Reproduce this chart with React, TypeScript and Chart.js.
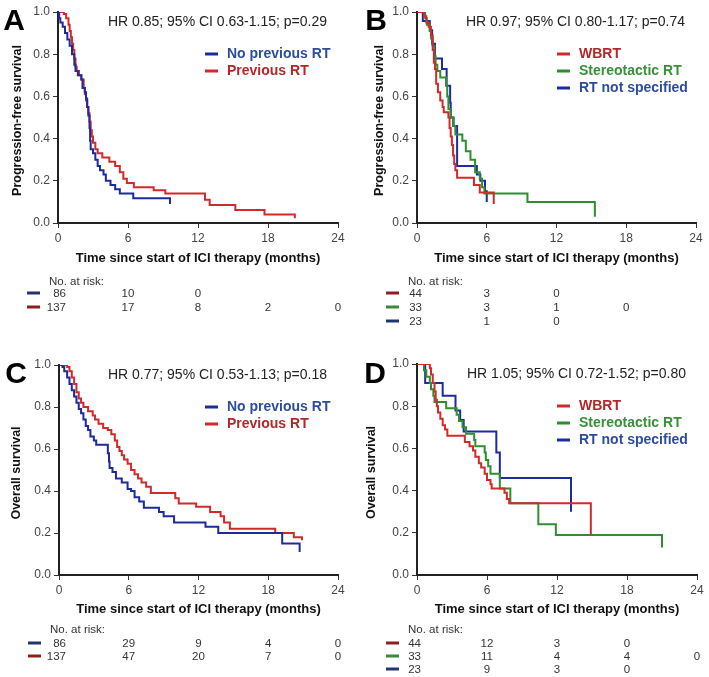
import React, { useEffect, useRef } from 'react';
import { Chart, registerables } from 'chart.js';

Chart.register(...registerables);

const FONT = '"Liberation Sans", Arial, Helvetica, sans-serif';

// ---------- Data ----------
const riskTimes = [0, 6, 12, 18, 24];
const xTitle = 'Time since start of ICI therapy (months)';

// Panel A: PFS by previous RT
const pfsNoRtTime = [0, 0.1, 0.2, 0.4, 0.6, 0.8, 1.0, 1.2, 1.4, 1.5, 1.7, 2.0, 2.1, 2.3, 2.4, 2.5, 2.6, 2.7, 2.75, 2.8, 3.0, 3.2, 3.4, 3.6, 3.9, 4.1, 4.5, 4.9, 5.3, 6.45, 9.6];
const pfsNoRtSurv = [1.0, 0.97, 0.95, 0.93, 0.9, 0.87, 0.84, 0.8, 0.75, 0.72, 0.7, 0.68, 0.64, 0.62, 0.59, 0.55, 0.51, 0.45, 0.39, 0.35, 0.33, 0.3, 0.27, 0.25, 0.23, 0.2, 0.18, 0.16, 0.14, 0.117, 0.09];
const pfsRtTime = [0, 0.5, 0.7, 0.9, 1.0, 1.1, 1.2, 1.3, 1.4, 1.5, 1.6, 1.8, 2.0, 2.2, 2.3, 2.4, 2.5, 2.6, 2.7, 2.8, 2.9, 3.0, 3.2, 3.4, 3.8, 4.4, 4.9, 5.3, 5.6, 5.9, 6.5, 8.2, 9.2, 12.6, 13.0, 15.2, 17.7, 20.3];
const pfsRtSurv = [1.0, 0.99, 0.97, 0.94, 0.91, 0.88, 0.85, 0.82, 0.78, 0.74, 0.72, 0.7, 0.68, 0.64, 0.61, 0.58, 0.55, 0.52, 0.48, 0.44, 0.41, 0.38, 0.35, 0.33, 0.31, 0.29, 0.27, 0.24, 0.21, 0.19, 0.17, 0.155, 0.14, 0.11, 0.085, 0.062, 0.04, 0.022];
const riskPfsNoRt = ['86', '10', '0'];
const riskPfsRt = ['137', '17', '8', '2', '0'];

// Panel B: PFS by RT type
const pfsWbrtTime = [0, 0.6, 0.8, 1.0, 1.2, 1.35, 1.45, 1.55, 1.65, 1.8, 2.0, 2.2, 2.3, 2.7, 2.8, 2.9, 3.0, 3.1, 3.2, 3.3, 3.45, 4.9, 5.4, 6.6];
const pfsWbrtSurv = [1.0, 0.98, 0.95, 0.93, 0.89, 0.82, 0.76, 0.73, 0.66, 0.62, 0.58, 0.55, 0.525, 0.5, 0.45, 0.41, 0.37, 0.32, 0.28, 0.25, 0.215, 0.18, 0.145, 0.09];
const pfsSrtTime = [0, 0.7, 0.85, 1.1, 1.2, 1.35, 1.5, 1.6, 1.75, 2.0, 2.5, 2.6, 2.7, 2.9, 3.1, 3.3, 3.9, 4.2, 4.6, 5.0, 5.4, 5.6, 5.8, 9.5, 15.3];
const pfsSrtSurv = [1.0, 0.97, 0.94, 0.91, 0.875, 0.84, 0.79, 0.75, 0.72, 0.69, 0.65, 0.6, 0.54, 0.5, 0.46, 0.42, 0.39, 0.34, 0.3, 0.24, 0.21, 0.17, 0.14, 0.1, 0.03];
const pfsNsTime = [0, 0.5, 1.1, 1.3, 1.55, 2.15, 2.55, 2.85, 2.9, 3.15, 3.45, 5.15, 5.45, 5.85, 6.0];
const pfsNsSurv = [1.0, 0.957, 0.913, 0.85, 0.78, 0.73, 0.65, 0.57, 0.5, 0.46, 0.27, 0.23, 0.2, 0.15, 0.1];
const riskPfsWbrt = ['44', '3', '0'];
const riskPfsSrt = ['33', '3', '1', '0'];
const riskPfsNs = ['23', '1', '0'];

// Panel C: OS by previous RT
const osNoRtTime = [0, 0.3, 0.45, 0.7, 0.9, 1.1, 1.3, 1.5, 1.7, 1.9, 2.1, 2.3, 2.5, 2.7, 3.0, 3.2, 4.2, 4.3, 4.35, 4.6, 4.9, 5.4, 5.9, 6.2, 6.5, 6.9, 7.3, 8.6, 9.0, 9.9, 12.6, 13.7, 19.2, 20.7];
const osNoRtSurv = [1.0, 0.99, 0.97, 0.94, 0.91, 0.88, 0.85, 0.82, 0.79, 0.77, 0.74, 0.71, 0.69, 0.66, 0.64, 0.62, 0.58, 0.54, 0.51, 0.49, 0.46, 0.44, 0.41, 0.4, 0.37, 0.35, 0.32, 0.3, 0.28, 0.25, 0.23, 0.2, 0.15, 0.11];
const osRtTime = [0, 0.7, 0.9, 1.1, 1.3, 1.5, 1.7, 1.9, 2.1, 2.5, 2.9, 3.1, 3.4, 3.8, 4.2, 4.5, 4.8, 5.0, 5.2, 5.4, 5.6, 5.9, 6.2, 6.5, 6.8, 7.1, 7.5, 7.9, 10.0, 10.3, 11.8, 13.0, 13.9, 14.2, 14.7, 18.6, 20.2, 20.9];
const osRtSurv = [1.0, 0.99, 0.97, 0.94, 0.91, 0.87, 0.84, 0.82, 0.8, 0.78, 0.76, 0.74, 0.72, 0.7, 0.69, 0.67, 0.64, 0.61, 0.59, 0.57, 0.55, 0.53, 0.5, 0.48, 0.46, 0.44, 0.42, 0.39, 0.365, 0.34, 0.325, 0.3, 0.28, 0.25, 0.22, 0.2, 0.18, 0.165];
const riskOsNoRt = ['86', '29', '9', '4', '0'];
const riskOsRt = ['137', '47', '20', '7', '0'];

// Panel D: OS by RT type
const osWbrtTime = [0, 1.1, 1.2, 1.35, 1.5, 1.6, 1.7, 1.8, 2.0, 2.2, 2.4, 2.6, 4.1, 4.5, 4.8, 5.0, 5.3, 5.5, 5.8, 6.0, 6.3, 6.4, 7.5, 7.7, 7.9, 14.9];
const osWbrtSurv = [1.0, 0.98, 0.95, 0.91, 0.87, 0.83, 0.8, 0.77, 0.74, 0.71, 0.69, 0.66, 0.63, 0.61, 0.59, 0.56, 0.53, 0.51, 0.48, 0.45, 0.43, 0.41, 0.39, 0.36, 0.34, 0.19];
const osSrtTime = [0, 0.6, 0.8, 1.1, 1.2, 1.4, 1.5, 2.5, 3.4, 3.6, 3.9, 4.2, 4.9, 5.0, 5.8, 5.9, 6.1, 6.3, 7.1, 8.0, 10.4, 11.9, 21.0];
const osSrtSurv = [1.0, 0.97, 0.94, 0.91, 0.88, 0.85, 0.82, 0.79, 0.76, 0.73, 0.7, 0.67, 0.64, 0.61, 0.58, 0.545, 0.515, 0.48, 0.41, 0.34, 0.24, 0.19, 0.13];
const osNsTime = [0, 0.7, 2.2, 3.3, 3.7, 4.0, 6.8, 7.1, 13.2];
const osNsSurv = [1.0, 0.91, 0.85, 0.78, 0.735, 0.68, 0.58, 0.46, 0.3];
const riskOsWbrt = ['44', '12', '3', '0'];
const riskOsSrt = ['33', '11', '4', '4', '0'];
const riskOsNs = ['23', '9', '3', '0'];

// ---------- Styles ----------
const BLUE = { line: '#1c2b9e', text: '#2c4c9c', dash: '#22356e' };
const RED = { line: '#d22a2a', text: '#b3272a', dash: '#8e1e1e' };
const GREEN = { line: '#2e8f2e', text: '#3a903a', dash: '#3a8a3a' };

const PANELS = [
  {
    letter: 'A', hr: 'HR 0.85; 95% CI 0.63-1.15; p=0.29', yTitle: 'Progression-free survival',
    geom: { x: 0, y: 0, w: 354, h: 335, left: 58, right: 338, top: 12, bottom: 223 },
    letterX: 14, letterY: 30, yTitleX: 18, legendX: 205, firstRight: 8,
    dy: { tick: 14, title: 35, head: 59, row: 70, gap: 14 },
    series: [
      { label: 'No previous RT', time: pfsNoRtTime, surv: pfsNoRtSurv, c: BLUE, risk: riskPfsNoRt },
      { label: 'Previous RT', time: pfsRtTime, surv: pfsRtSurv, c: RED, risk: riskPfsRt },
    ],
  },
  {
    letter: 'B', hr: 'HR 0.97; 95% CI 0.80-1.17; p=0.74', yTitle: 'Progression-free survival',
    geom: { x: 354, y: 0, w: 355, h: 335, left: 63, right: 342, top: 12, bottom: 223 },
    letterX: 22, letterY: 30, yTitleX: 26, legendX: 203, firstRight: 5,
    dy: { tick: 14, title: 35, head: 59, row: 70, gap: 14 },
    series: [
      { label: 'WBRT', time: pfsWbrtTime, surv: pfsWbrtSurv, c: RED, risk: riskPfsWbrt },
      { label: 'Stereotactic RT', time: pfsSrtTime, surv: pfsSrtSurv, c: GREEN, risk: riskPfsSrt },
      { label: 'RT not specified', time: pfsNsTime, surv: pfsNsSurv, c: BLUE, risk: riskPfsNs },
    ],
  },
  {
    letter: 'C', hr: 'HR 0.77; 95% CI 0.53-1.13; p=0.18', yTitle: 'Overall survival',
    geom: { x: 0, y: 335, w: 354, h: 342, left: 59, right: 338, top: 30, bottom: 240 },
    letterX: 16, letterY: 48, yTitleX: 17, legendX: 205, firstRight: 7,
    dy: { tick: 15, title: 34, head: 55, row: 68, gap: 13 },
    series: [
      { label: 'No previous RT', time: osNoRtTime, surv: osNoRtSurv, c: BLUE, risk: riskOsNoRt },
      { label: 'Previous RT', time: osRtTime, surv: osRtSurv, c: RED, risk: riskOsRt },
    ],
  },
  {
    letter: 'D', hr: 'HR 1.05; 95% CI 0.72-1.52; p=0.80', yTitle: 'Overall survival',
    geom: { x: 354, y: 335, w: 355, h: 342, left: 63, right: 343, top: 29, bottom: 240 },
    letterX: 21, letterY: 48, yTitleX: 18, legendX: 203, firstRight: 4,
    dy: { tick: 15, title: 34, head: 55, row: 68, gap: 13 },
    series: [
      { label: 'WBRT', time: osWbrtTime, surv: osWbrtSurv, c: RED, risk: riskOsWbrt },
      { label: 'Stereotactic RT', time: osSrtTime, surv: osSrtSurv, c: GREEN, risk: riskOsSrt },
      { label: 'RT not specified', time: osNsTime, surv: osNsSurv, c: BLUE, risk: riskOsNs },
    ],
  },
];

function drawAnnotations(chart: any, p: any) {
  const ctx = chart.ctx as CanvasRenderingContext2D;
  const ca = chart.chartArea;
  const xs = chart.scales.x;
  ctx.save();
  // Panel letter
  ctx.fillStyle = '#000';
  ctx.font = `bold 30px ${FONT}`;
  ctx.textAlign = 'center';
  ctx.textBaseline = 'alphabetic';
  ctx.fillText(p.letter, p.letterX, p.letterY);
  // HR text
  ctx.font = `14px ${FONT}`;
  ctx.fillStyle = '#222';
  ctx.textAlign = 'right';
  ctx.textBaseline = 'middle';
  ctx.fillText(p.hr, ca.right - 11, ca.top + 10);
  // Legend
  p.series.forEach((s: any, i: number) => {
    const y = ca.top + 42 + i * 17;
    ctx.strokeStyle = s.c.line;
    ctx.lineWidth = 3;
    ctx.beginPath();
    ctx.moveTo(p.legendX, y);
    ctx.lineTo(p.legendX + 13, y);
    ctx.stroke();
    ctx.font = `bold 14px ${FONT}`;
    ctx.fillStyle = s.c.text;
    ctx.textAlign = 'left';
    ctx.fillText(s.label, p.legendX + 22, y + 0.5);
  });
  // Y title
  ctx.save();
  ctx.translate(p.yTitleX, (ca.top + ca.bottom) / 2 + 3);
  ctx.rotate(-Math.PI / 2);
  ctx.font = `bold 12.5px ${FONT}`;
  ctx.fillStyle = '#111';
  ctx.textAlign = 'center';
  ctx.textBaseline = 'middle';
  ctx.fillText(p.yTitle, 0, 0);
  ctx.restore();
  // X title
  ctx.font = `bold 13px ${FONT}`;
  ctx.fillStyle = '#111';
  ctx.textAlign = 'center';
  ctx.textBaseline = 'middle';
  ctx.fillText(xTitle, (ca.left + ca.right) / 2, ca.bottom + p.dy.title);
  // Risk table
  ctx.font = `11.5px ${FONT}`;
  ctx.fillStyle = '#333';
  ctx.textAlign = 'left';
  ctx.fillText('No. at risk:', ca.left - 9, ca.bottom + p.dy.head);
  p.series.forEach((s: any, i: number) => {
    const y = ca.bottom + p.dy.row + i * p.dy.gap;
    ctx.strokeStyle = s.c.dash;
    ctx.lineWidth = 3;
    ctx.beginPath();
    ctx.moveTo(ca.left - 31, y);
    ctx.lineTo(ca.left - 18, y);
    ctx.stroke();
    ctx.fillStyle = '#333';
    s.risk.forEach((v: string, j: number) => {
      const x = xs.getPixelForValue(riskTimes[j]);
      if (j === 0) {
        ctx.textAlign = 'right';
        ctx.fillText(v, x + p.firstRight, y + 0.5);
      } else {
        ctx.textAlign = 'center';
        ctx.fillText(v, x, y + 0.5);
      }
    });
  });
  ctx.restore();
}

function Panel({ panel }: { panel: any }) {
  const ref = useRef<HTMLCanvasElement | null>(null);
  const g = panel.geom;
  useEffect(() => {
    const X_AXIS_H = 26;
    const plugin = {
      id: 'annotate' + panel.letter,
      afterDraw(chart: any) {
        drawAnnotations(chart, panel);
      },
    };
    const gridCfg = { display: true, drawOnChartArea: false, drawTicks: true, tickLength: 5, color: '#333', lineWidth: 1 };
    const chart = new Chart(ref.current as HTMLCanvasElement, {
      type: 'line',
      data: {
        datasets: panel.series.map((s: any) => ({
          label: s.label,
          data: s.time.map((t: number, i: number) => ({ x: t, y: s.surv[i] })),
          borderColor: s.c.line,
          backgroundColor: s.c.line,
          borderWidth: 2,
          pointRadius: 0,
          stepped: true,
          fill: false,
          tension: 0,
        })),
      },
      options: {
        animation: false,
        responsive: false,
        events: [],
        layout: { padding: { left: 0, top: g.top, right: g.w - g.right, bottom: g.h - g.bottom - X_AXIS_H } },
        plugins: { legend: { display: false }, tooltip: { enabled: false } },
        scales: {
          x: {
            type: 'linear',
            min: 0,
            max: 24,
            afterFit: (s: any) => { s.height = X_AXIS_H; },
            ticks: { stepSize: 6, color: '#444', font: { family: FONT, size: 12 }, padding: 3, maxRotation: 0 },
            grid: gridCfg,
            border: { display: true, color: '#222', width: 2 },
          },
          y: {
            type: 'linear',
            min: 0,
            max: 1,
            afterFit: (s: any) => { s.width = g.left; },
            ticks: {
              stepSize: 0.2,
              color: '#444',
              font: { family: FONT, size: 12 },
              padding: 3,
              callback: (v: any) => Number(v).toFixed(1),
            },
            grid: gridCfg,
            border: { display: true, color: '#222', width: 2 },
          },
        },
      } as any,
      plugins: [plugin],
    });
    return () => chart.destroy();
  }, [panel]);
  return (
    <canvas
      ref={ref}
      width={g.w}
      height={g.h}
      style={{ position: 'absolute', left: g.x, top: g.y, width: g.w, height: g.h, display: 'block' }}
    />
  );
}

export default function App() {
  useEffect(() => {
    document.body.style.margin = '0';
    document.body.style.background = '#fff';
  }, []);
  return (
    <div style={{ position: 'relative', width: 709, height: 677, background: '#fff', overflow: 'hidden' }}>
      {PANELS.map((p) => (
        <Panel key={p.letter} panel={p} />
      ))}
    </div>
  );
}
